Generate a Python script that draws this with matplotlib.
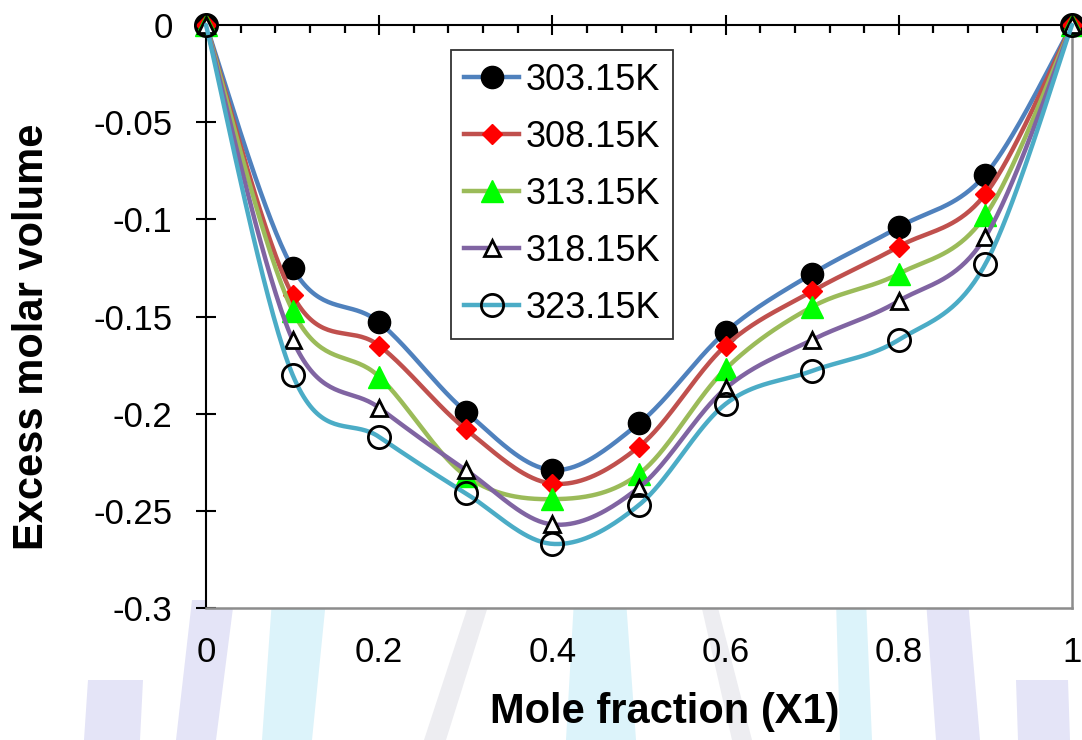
import numpy as np
import matplotlib
matplotlib.use("Agg")
import matplotlib.pyplot as plt
from matplotlib.patches import Polygon
from matplotlib.lines import Line2D

plt.rcParams['font.family'] = ['Liberation Sans', 'DejaVu Sans']

# Data
x1 = [0, 0.1, 0.2, 0.3, 0.4, 0.5, 0.6, 0.7, 0.8, 0.9, 1.0]
temps = ['303.15K', '308.15K', '313.15K', '318.15K', '323.15K']
ve_303 = [0, -0.125, -0.153, -0.199, -0.229, -0.205, -0.158, -0.128, -0.104, -0.077, 0]
ve_308 = [0, -0.139, -0.165, -0.208, -0.236, -0.217, -0.165, -0.137, -0.114, -0.087, 0]
ve_313 = [0, -0.147, -0.181, -0.232, -0.244, -0.231, -0.177, -0.145, -0.128, -0.098, 0]
ve_318 = [0, -0.162, -0.197, -0.229, -0.257, -0.238, -0.187, -0.162, -0.142, -0.109, 0]
ve_323 = [0, -0.180, -0.212, -0.241, -0.267, -0.247, -0.195, -0.178, -0.162, -0.123, 0]
series = [ve_303, ve_308, ve_313, ve_318, ve_323]

line_colors = ['#4F81BD', '#C0504D', '#9BBB59', '#8064A2', '#4BACC6']
markers = [
    dict(marker='o', markersize=16, markerfacecolor='black', markeredgecolor='black'),
    dict(marker='D', markersize=10.5, markerfacecolor='#FF0000', markeredgecolor='#FF0000'),
    dict(marker='^', markersize=16, markerfacecolor='#00FF00', markeredgecolor='#00FF00'),
    dict(marker='^', markersize=12, markerfacecolor='white', markeredgecolor='black', markeredgewidth=2),
    dict(marker='o', markersize=16, markerfacecolor='none', markeredgecolor='black', markeredgewidth=2),
]


def smooth_curve(xs, ys, sx, sy, n=40):
    # Bezier smoothing (Catmull-Rom control points) done in screen-like units
    p = np.column_stack([np.asarray(xs) * sx, np.asarray(ys) * sy])
    p = np.vstack([p[0], p, p[-1]])
    out = []
    t = np.linspace(0, 1, n)[:, None]
    for i in range(1, len(p) - 2):
        p0, p1, p2, p3 = p[i - 1], p[i], p[i + 1], p[i + 2]
        c1 = p1 + (p2 - p0) / 6
        c2 = p2 - (p3 - p1) / 6
        seg = ((1 - t) ** 3) * p1 + 3 * ((1 - t) ** 2) * t * c1 + 3 * (1 - t) * t ** 2 * c2 + t ** 3 * p2
        out.append(seg if i == 1 else seg[1:])
    out = np.vstack(out)
    return out[:, 0] / sx, out[:, 1] / sy


fig = plt.figure(figsize=(10.82, 7.40), dpi=100)

# faint background watermark under the axis area
wm_purple = '#E4E4F7'
wm_cyan = '#DCF3FA'
wm_grey = '#EDEDF1'
shapes = [
    ([(88, 680), (143, 680), (140, 740), (84, 740)], wm_purple),
    ([(192, 600), (234, 600), (216, 740), (176, 740)], wm_purple),
    ([(272, 600), (326, 600), (312, 740), (262, 740)], wm_cyan),
    ([(574, 600), (626, 600), (636, 740), (566, 740)], wm_cyan),
    ([(836, 600), (866, 600), (872, 740), (840, 740)], wm_cyan),
    ([(926, 600), (968, 600), (980, 740), (936, 740)], wm_purple),
    ([(1016, 680), (1068, 680), (1070, 740), (1018, 740)], wm_purple),
    ([(470, 600), (490, 600), (446, 740), (424, 740)], wm_grey),
    ([(700, 600), (716, 600), (752, 740), (732, 740)], wm_grey),
]
for pts, col in shapes:
    fig.patches.append(Polygon([(px / 1082, 1 - py / 740) for px, py in pts],
                               closed=True, transform=fig.transFigure,
                               facecolor=col, edgecolor='none', zorder=-5))

ax = fig.add_axes([206 / 1082, 1 - 608 / 740, 866 / 1082, 583 / 740])
ax.set_zorder(2)
ax.set_xlim(0, 1)
ax.set_ylim(-0.3, 0)

sx, sy = 866.0, 583.0 / 0.3
handles = []
for k, (vals, col, mk) in enumerate(zip(series, line_colors, markers)):
    cx, cy = smooth_curve(x1, vals, sx, sy)
    ax.plot(cx, cy, color=col, lw=3.2, solid_capstyle='round', zorder=3 + 2 * k, clip_on=False)
    ax.plot(x1, vals, linestyle='none', zorder=4 + 2 * k, clip_on=False, **mk)
    handles.append(Line2D([], [], color=col, lw=3.2, **mk))

# axis lines: x axis runs along y = 0, plot border in grey
ax.spines['top'].set_color('black')
ax.spines['top'].set_linewidth(1.5)
ax.spines['left'].set_color('black')
ax.spines['left'].set_linewidth(1.5)
for s in ['right', 'bottom']:
    ax.spines[s].set_color('#8C8C8C')
    ax.spines[s].set_linewidth(1.8)

ax.set_xticks(np.arange(0, 1.01, 0.2))
ax.set_xticks(np.arange(0, 1.01, 0.04), minor=True)
ax.set_xticklabels(['0', '0.2', '0.4', '0.6', '0.8', '1'])
ax.set_yticks(np.arange(-0.3, 0.001, 0.05))
ax.set_yticklabels(['-0.3', '-0.25', '-0.2', '-0.15', '-0.1', '-0.05', '0'])

ax.tick_params(axis='x', which='major', bottom=False, top=True, labelbottom=True, labeltop=False,
               direction='inout', length=14, width=1.5, labelsize=25, pad=13)
ax.tick_params(axis='x', which='minor', bottom=False, top=True, direction='in', length=6, width=1.6)
ax.tick_params(axis='y', which='major', left=True, right=False, direction='inout', length=14,
               width=1.5, labelsize=25, pad=17)

fig.text(32 / 1082, 1 - 337 / 740, 'Excess molar volume', rotation=90, ha='center', va='center',
         fontsize=30, fontweight='bold')
fig.text(665 / 1082, 1 - 712 / 740, 'Mole fraction (X1)', ha='center', va='center',
         fontsize=30, fontweight='bold')

leg = ax.legend(handles, temps, loc='upper left', bbox_to_anchor=(451 / 1082, 1 - 50 / 740),
                bbox_transform=fig.transFigure, borderaxespad=0, fontsize=26, frameon=True,
                fancybox=False, framealpha=1, edgecolor='#333333', handlelength=1.53,
                handletextpad=0.17, labelspacing=0.61, borderpad=0.36)
leg.get_frame().set_linewidth(1.3)
leg.set_zorder(20)

fig.savefig('out.png', dpi=100)
